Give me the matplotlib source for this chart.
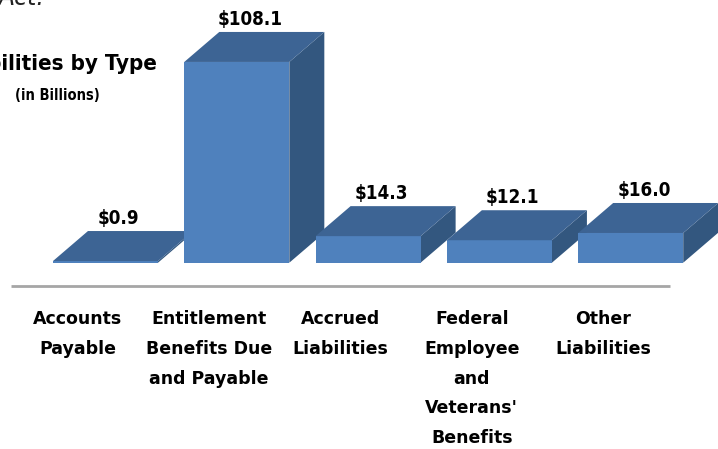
import numpy as np
import matplotlib
matplotlib.use('Agg')
import matplotlib.pyplot as plt
from matplotlib.patches import Polygon

plt.rcParams['font.family'] = ['DejaVu Sans']

# data (in billions)
categories = ['Accounts\nPayable', 'Entitlement\nBenefits Due\nand Payable',
              'Accrued\nLiabilities', 'Federal\nEmployee\nand\nVeterans\'\nBenefits',
              'Other\nLiabilities']
values = [0.9, 108.1, 14.3, 12.1, 16.0]
value_labels = ['$0.9', '$108.1', '$14.3', '$12.1', '$16.0']

front_col = '#4f81bd'
top_col = '#3d6494'
side_col = '#33577f'

W, H = 718, 449
fig = plt.figure(figsize=(W / 100, H / 100), dpi=100)
ax = fig.add_axes([0, 0, 1, 1])

# pixel -> data mapping so the bars line up with the reference
px_per_cat = 131.3
px_per_val = 1.857
x0_px, y0_px = 105.5, 262.7
ax.set_xlim(-x0_px / px_per_cat, (W - x0_px) / px_per_cat)
ax.set_ylim((y0_px - H) / px_per_val, y0_px / px_per_val)
ax.axis('off')

bw = 0.40           # half width of bar front
ddx = 35 / px_per_cat   # depth offset in x
ddy = 30 / px_per_val   # depth offset in y

for i, v in enumerate(values):
    l, r = i - bw, i + bw
    # side face
    ax.add_patch(Polygon([(r, 0), (r, v), (r + ddx, v + ddy), (r + ddx, ddy)],
                         closed=True, fc=side_col, ec='none'))
    # front face
    ax.add_patch(Polygon([(l, 0), (r, 0), (r, v), (l, v)],
                         closed=True, fc=front_col, ec='none'))
    # top face
    ax.add_patch(Polygon([(l, v), (r, v), (r + ddx, v + ddy), (l + ddx, v + ddy)],
                         closed=True, fc=top_col, ec='none'))
    ax.annotate(value_labels[i], (i + 0.1, v + ddy), xytext=(0, 2),
                textcoords='offset points', ha='center', va='bottom',
                fontsize=13.5, fontweight='bold', fontstretch='condensed')
    ax.text(i - 0.21, -25.5, categories[i], ha='center', va='top',
            fontsize=12.5, fontweight='bold', linespacing=1.84)

# floor line
ax.plot([-0.72, 4.30], [-12.4, -12.4], color='#a6a6a6', lw=2, solid_capstyle='butt')

# title pieces (cropped at left like the source)
fig.text(157 / W, 1 - 64 / H, 'Liabilities by Type', ha='right', va='center',
         fontsize=16, fontweight='bold', fontstretch='condensed')
fig.text(57 / W, 1 - 96 / H, '(in Billions)', ha='center', va='center',
         fontsize=10.5, fontweight='bold', fontstretch='condensed')
fig.text(-2 / W, 1 + 2 / H, 'Act.', ha='left', va='center',
         fontsize=17, style='italic', color='#222222')

fig.savefig('out.png', dpi=100)
